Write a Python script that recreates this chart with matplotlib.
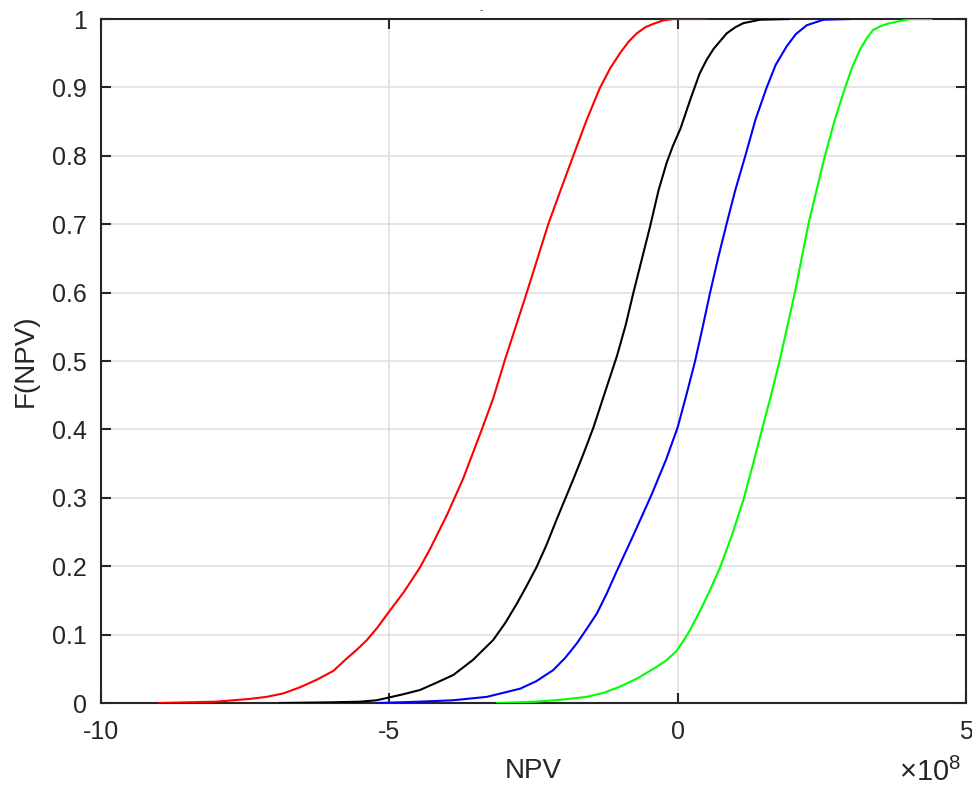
import matplotlib
matplotlib.use("Agg")
import matplotlib.pyplot as plt

plt.rcParams['font.family'] = ['Liberation Sans', 'DejaVu Sans']
plt.rcParams['axes.unicode_minus'] = False
plt.rcParams['mathtext.fontset'] = 'custom'
plt.rcParams['mathtext.rm'] = 'Liberation Sans'

# Empirical CDFs of NPV (x in units of 1e8)
red_x = [-9.0, -8.0, -7.42, -7.13, -6.84, -6.55, -6.26, -5.97, -5.74, -5.55,
         -5.39, -5.20, -5.01, -4.75, -4.47, -4.295, -4.0, -3.72, -3.40, -3.20,
         -2.99, -2.62, -2.24, -2.02, -1.81, -1.58, -1.35, -1.17, -1.00, -0.85,
         -0.71, -0.56, -0.42, -0.25, -0.075, 0.47]
red_y = [0.0, 0.002, 0.006, 0.009, 0.014, 0.023, 0.034, 0.047, 0.065, 0.079,
         0.092, 0.111, 0.133, 0.162, 0.198, 0.225, 0.275, 0.328, 0.399, 0.445,
         0.503, 0.599, 0.701, 0.752, 0.800, 0.852, 0.899, 0.928, 0.950, 0.967,
         0.979, 0.988, 0.993, 0.998, 1.0, 1.0]

black_x = [-6.9, -6.0, -5.5, -5.22, -5.01, -4.75, -4.47, -4.2, -3.89, -3.55,
           -3.20, -2.99, -2.79, -2.62, -2.445, -2.27, -2.10, -1.81, -1.63, -1.46,
           -1.23, -1.05, -0.90, -0.77, -0.48, -0.33, -0.19, -0.08, 0.05, 0.21,
           0.38, 0.50, 0.62, 0.85, 1.00, 1.14, 1.43, 1.92]
black_y = [0.0, 0.001, 0.002, 0.004, 0.008, 0.013, 0.019, 0.029, 0.041, 0.063,
           0.092, 0.117, 0.145, 0.171, 0.199, 0.232, 0.268, 0.327, 0.365, 0.403,
           0.462, 0.508, 0.553, 0.599, 0.696, 0.750, 0.790, 0.815, 0.840, 0.880,
           0.920, 0.940, 0.956, 0.979, 0.988, 0.994, 0.999, 1.0]

blue_x = [-5.2, -4.47, -3.9, -3.31, -2.73, -2.45, -2.16, -1.95, -1.75, -1.58,
          -1.40, -1.23, -1.06, -0.77, -0.45, -0.20, 0.0, 0.15, 0.30, 0.43,
          0.56, 0.70, 0.85, 1.00, 1.17, 1.35, 1.54, 1.70, 1.89, 2.05,
          2.24, 2.53, 2.99]
blue_y = [0.0, 0.002, 0.004, 0.009, 0.021, 0.032, 0.048, 0.066, 0.087, 0.108,
          0.131, 0.160, 0.192, 0.245, 0.305, 0.356, 0.403, 0.450, 0.499, 0.548,
          0.599, 0.650, 0.701, 0.750, 0.799, 0.853, 0.899, 0.933, 0.960, 0.978,
          0.991, 0.999, 1.0]

green_x = [-3.13, -2.445, -2.0, -1.58, -1.28, -1.00, -0.70, -0.42, -0.20, -0.02,
           0.10, 0.21, 0.39, 0.55, 0.73, 0.94, 1.14, 1.30, 1.46, 1.62,
           1.77, 1.90, 2.03, 2.15, 2.27, 2.41, 2.55, 2.72, 2.90, 3.03,
           3.16, 3.28, 3.39, 3.53, 3.68, 4.03, 4.40]
green_y = [0.0, 0.002, 0.005, 0.009, 0.015, 0.024, 0.036, 0.050, 0.062, 0.076,
           0.091, 0.106, 0.135, 0.163, 0.197, 0.245, 0.297, 0.347, 0.399, 0.450,
           0.501, 0.550, 0.599, 0.650, 0.701, 0.750, 0.799, 0.851, 0.899, 0.930,
           0.955, 0.972, 0.984, 0.990, 0.994, 1.0, 1.0]

x_ticks = [-10, -5, 0, 5]
y_ticks = [0, 0.1, 0.2, 0.3, 0.4, 0.5, 0.6, 0.7, 0.8, 0.9, 1]
y_tick_labels = ['0', '0.1', '0.2', '0.3', '0.4', '0.5', '0.6', '0.7', '0.8', '0.9', '1']

fig = plt.figure(figsize=(9.72, 7.9), dpi=100)
ax = fig.add_axes([0.1039, 0.1101, 0.8899, 0.8658])

curves = [(red_x, red_y, '#ff0000'), (black_x, black_y, '#000000'),
          (blue_x, blue_y, '#0000ff'), (green_x, green_y, '#00ff00')]
for xs, ys, c in curves:
    ax.plot(xs, ys, color=c, linewidth=1.5, zorder=3, solid_joinstyle='round')

ax.set_xlim(-10, 5)
ax.set_ylim(0, 1)
ax.set_xticks(x_ticks)
ax.set_xticklabels([str(v) for v in x_ticks])
ax.set_yticks(y_ticks)
ax.set_yticklabels(y_tick_labels)

ax.grid(True, color='#dedede', linewidth=1.1)
ax.set_axisbelow(True)
for sp in ax.spines.values():
    sp.set_color('#262626')
    sp.set_linewidth(1.5)
ax.tick_params(direction='in', top=True, right=True, length=7, width=1.5,
               color='#262626', labelsize=18, labelcolor='#262626')
ax.tick_params(axis='x', pad=12)
ax.tick_params(axis='y', pad=10)

ax.set_xlabel('NPV', fontsize=20, color='#262626', labelpad=10)
ax.set_ylabel('F(NPV)', fontsize=20, color='#262626', labelpad=10)

# exponent of the x axis
fig.text(0.989, 0.004, r'$\times\mathregular{10^{8}}$', fontsize=21,
         color='#262626', ha='right', va='bottom')
fig.text(481 / 972, 1 - 10 / 790, '-', fontsize=7, color='#444444',
         ha='center', va='center')

fig.savefig('out.png', dpi=100)
